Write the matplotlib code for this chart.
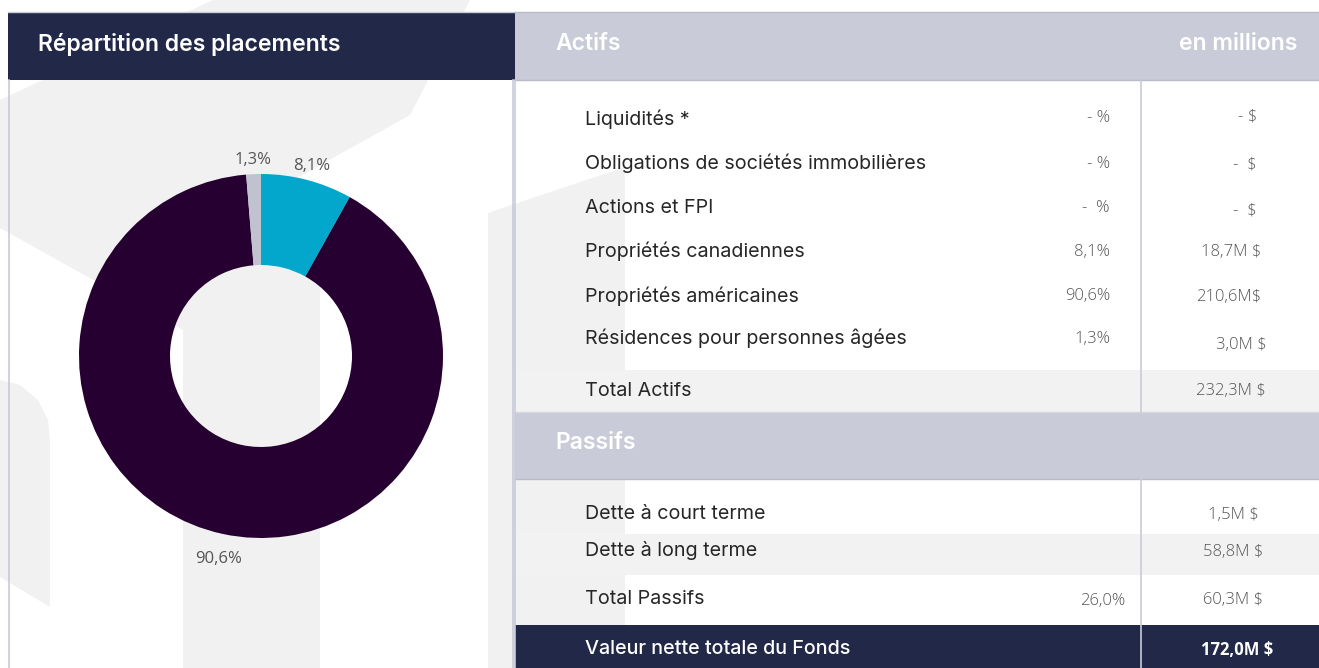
import matplotlib
matplotlib.use("Agg")
import matplotlib.pyplot as plt
from matplotlib.patches import Rectangle, Polygon

# ---- data ----
pie_labels = ["8,1%", "90,6%", "1,3%"]
pie_values = [8.1, 90.6, 1.3]
pie_colors = ["#03a7cc", "#260030", "#c0c3cf"]

actif_labels = ["Liquidités *", "Obligations de sociétés immobilières", "Actions et FPI",
                "Propriétés canadiennes", "Propriétés américaines",
                "Résidences pour personnes âgées"]
actif_pct = ["- %", "- %", "-  %", "8,1%", "90,6%", "1,3%"]
actif_val = ["- $", "-  $", "-  $", "18,7M $", "210,6M$", "3,0M $"]
total_actif = "232,3M $"

passif_labels = ["Dette à court terme", "Dette à long terme"]
passif_val = ["1,5M $", "58,8M $"]
total_passif_pct = "26,0%"
total_passif = "60,3M $"
valeur_nette = "172,0M $"

# ---- layout (pixels) ----
W, H = 1319, 668
NAVY = "#222848"
LIGHT = "#c9cbd8"
ROWGRAY = "#f2f2f2"
WM = "#f1f1f1"
LINE = "#c8cbd8"
TXT = "#262626"
NUM = "#555555"
FONT = ["Inter", "DejaVu Sans"]
NUMFONT = ["Open Sans", "DejaVu Sans"]
LAB_FS = 14.2
NUM_FS = 12
HEAD_FS = 16.5

fig = plt.figure(figsize=(W / 100, H / 100), dpi=100)
bg = fig.add_axes([0, 0, 1, 1])
bg.set_xlim(0, W)
bg.set_ylim(H, 0)
bg.axis("off")

# faint watermark logo behind everything
wm_shapes = [
    [(213, 0), (470, 0), (410, 115), (245, 207), (320, 250), (320, H), (183, H),
     (183, 330), (0, 228), (0, 100)],
    [(0, 380), (20, 385), (38, 400), (48, 420), (50, 440), (50, 607), (0, 577)],
    [(488, 213), (625, 167), (625, H), (488, H)],
]
for pts in wm_shapes:
    bg.add_patch(Polygon(pts, closed=True, facecolor=WM, edgecolor="none", zorder=0))

# left panel
bg.add_patch(Rectangle((8, 12), 507, 68, facecolor=NAVY, edgecolor="none", zorder=2))
bg.plot([9, 9], [80, H], color=LINE, lw=1.2, zorder=3)
bg.plot([513, 513], [80, H], color=LINE, lw=1.2, zorder=3)
bg.plot([8, 515], [12, 12], color=LINE, lw=1, zorder=3)
bg.text(38, 45, "Répartition des placements", color="white", fontsize=HEAD_FS,
        fontweight="semibold", family=FONT, va="center", ha="left", zorder=4)

# right table: headers and shaded rows
bg.add_patch(Rectangle((515, 12), W - 515, 68, facecolor=LIGHT, edgecolor="none", zorder=2))
bg.plot([515, W], [12, 12], color="#b8bbc9", lw=1, zorder=3)
bg.plot([515, W], [80, 80], color="#b8bbc9", lw=1, zorder=3)
bg.text(555, 44, "Actifs", color="white", fontsize=HEAD_FS, fontweight="semibold",
        family=FONT, va="center", ha="left", zorder=4)
bg.text(1297, 44, "en millions", color="white", fontsize=HEAD_FS, fontweight="semibold",
        family=FONT, va="center", ha="right", zorder=4)

bg.add_patch(Rectangle((515, 370), W - 515, 42, facecolor=ROWGRAY, edgecolor="none", zorder=1))
bg.add_patch(Rectangle((515, 412), W - 515, 67, facecolor=LIGHT, edgecolor="none", zorder=2))
bg.plot([515, W], [412, 412], color="#d6d8e1", lw=1, zorder=3)
bg.plot([515, W], [479, 479], color="#b8bbc9", lw=1, zorder=3)
bg.text(555, 443, "Passifs", color="white", fontsize=HEAD_FS, fontweight="semibold",
        family=FONT, va="center", ha="left", zorder=4)
bg.add_patch(Rectangle((515, 534), W - 515, 41, facecolor=ROWGRAY, edgecolor="none", zorder=1))
bg.add_patch(Rectangle((515, 625), W - 515, H - 625, facecolor=NAVY, edgecolor="none", zorder=2))

# column divider
bg.plot([1141, 1141], [80, 412], color=LINE, lw=1.2, zorder=3)
bg.plot([1141, 1141], [479, H], color=LINE, lw=1.2, zorder=3)
bg.plot([515, 515], [80, H], color=LINE, lw=1.2, zorder=3)

# actif rows
actif_y = [119, 163, 208, 251, 296, 338]
pct_y = [118, 164, 208, 252, 296, 339]
val_y = [117, 164, 211, 252, 297, 345]
val_x = [1257, 1257, 1257, 1261, 1261, 1267]
for lab, pc, v, y, py, vy, vx in zip(actif_labels, actif_pct, actif_val, actif_y, pct_y, val_y, val_x):
    bg.text(585, y, lab, color=TXT, fontsize=LAB_FS, family=FONT, va="center", ha="left", zorder=4)
    bg.text(1110, py, pc, color=NUM, fontsize=NUM_FS, family=NUMFONT, fontweight="light",
            va="center", ha="right", zorder=4)
    bg.text(vx, vy, v, color=NUM, fontsize=NUM_FS, family=NUMFONT, fontweight="light",
            va="center", ha="right", zorder=4)

bg.text(585, 391, "Total Actifs", color=TXT, fontsize=LAB_FS, family=FONT, va="center", zorder=4)
bg.text(1266, 391, total_actif, color=NUM, fontsize=NUM_FS, family=NUMFONT, fontweight="light",
        va="center", ha="right", zorder=4)

# passif rows
passif_y = [514, 551]
passif_vx = [1259, 1263]
for lab, v, y, vx in zip(passif_labels, passif_val, passif_y, passif_vx):
    bg.text(585, y, lab, color=TXT, fontsize=LAB_FS, family=FONT, va="center", zorder=4)
    bg.text(vx, y + 1, v, color=NUM, fontsize=NUM_FS, family=NUMFONT, fontweight="light",
            va="center", ha="right", zorder=4)

bg.text(585, 599, "Total Passifs", color=TXT, fontsize=LAB_FS, family=FONT, va="center", zorder=4)
bg.text(1125, 601, total_passif_pct, color=NUM, fontsize=NUM_FS, family=NUMFONT,
        fontweight="light", va="center", ha="right", zorder=4)
bg.text(1263, 600, total_passif, color=NUM, fontsize=NUM_FS, family=NUMFONT, fontweight="light",
        va="center", ha="right", zorder=4)

bg.text(585, 649, "Valeur nette totale du Fonds", color="white", fontsize=LAB_FS,
        fontweight="medium", family=FONT, va="center", zorder=4)
bg.text(1273, 650, valeur_nette, color="white", fontsize=12, fontweight="bold",
        family=NUMFONT, va="center", ha="right", zorder=4)

# donut chart
cx, cy, r = 261, 356, 182
half = 200
ax = fig.add_axes([(cx - half) / W, (H - cy - half) / H, 2 * half / W, 2 * half / H])
ax.set_facecolor("none")
ax.patch.set_alpha(0)
wedges, texts = ax.pie(pie_values, labels=pie_labels, colors=pie_colors, startangle=90,
                       counterclock=False, radius=1.0, labeldistance=1.11,
                       wedgeprops=dict(width=0.5, edgecolor="none"),
                       textprops=dict(color=NUM, fontsize=12, family=NUMFONT))
for t in texts:
    t.set_ha("center")
    t.set_va("center")
    x, y = t.get_position()
    t.set_position((x, y - 6 / r))  # labels sit slightly low in the original
lim = half / r
ax.set_xlim(-lim, lim)
ax.set_ylim(-lim, lim)
ax.set_aspect("equal")
ax.axis("off")

fig.savefig("out.png", dpi=100)
